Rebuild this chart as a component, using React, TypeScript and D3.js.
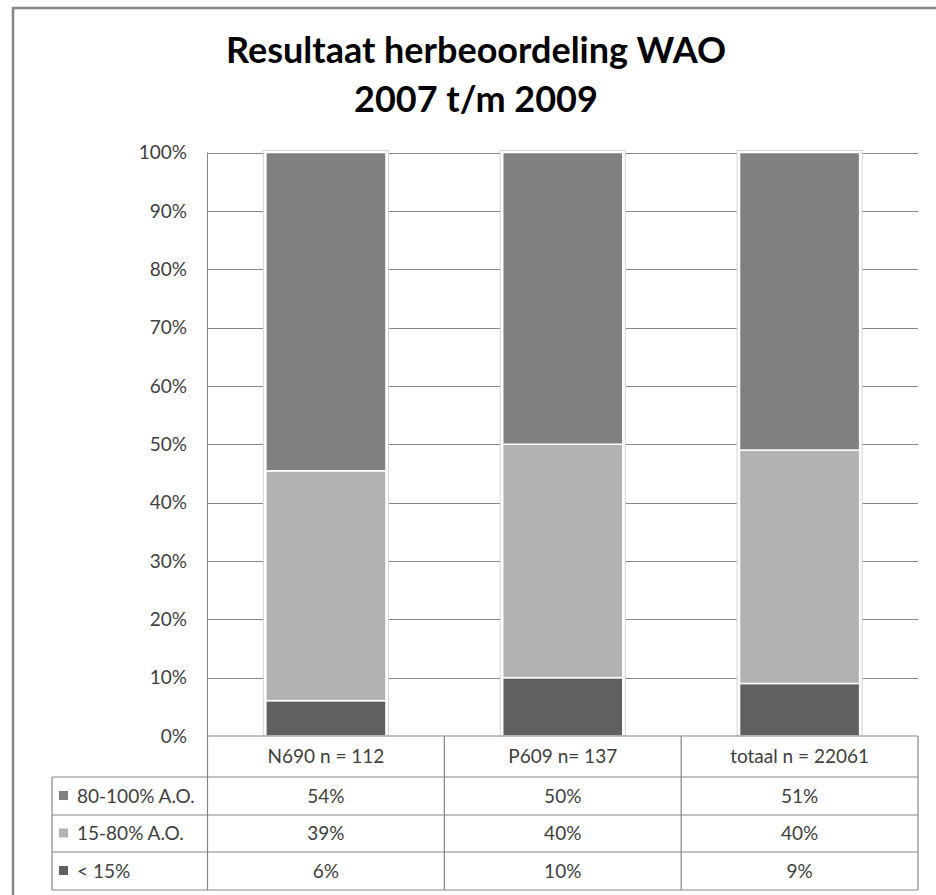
import React from 'react';
import * as d3 from 'd3';

const categories = ['N690 n = 112', 'P609 n= 137', 'totaal n = 22061'];
const seriesNames = ['< 15%', '15-80% A.O.', '80-100% A.O.'];
const below15 = [6, 10, 9];
const mid15to80 = [39, 40, 40];
const high80to100 = [54, 50, 51];
const yTicks = [0, 0.1, 0.2, 0.3, 0.4, 0.5, 0.6, 0.7, 0.8, 0.9, 1];
const seriesColors = ['#606060', '#b2b2b2', '#808080'];

const W = 936;
const H = 895;
const margin = { left: 207.5, right: 918, top: 152.5, bottom: 736 };
const rowLines = [736, 777, 815, 852, 890];
const tableLeft = 52;
const FONT = 'Lato, "Open Sans", sans-serif';

const rows = categories.map((c, i) => ({
  cat: c,
  '< 15%': below15[i],
  '15-80% A.O.': mid15to80[i],
  '80-100% A.O.': high80to100[i],
}));

const App: React.FC = () => {
  const x = d3.scaleBand<string>()
    .domain(categories)
    .range([margin.left, margin.right])
    .paddingInner(0.493)
    .paddingOuter(0.2465);

  const y = d3.scaleLinear().domain([0, 1]).range([margin.bottom, margin.top]);

  const stacked = d3.stack<any>()
    .keys(seriesNames)
    .offset(d3.stackOffsetExpand)(rows);

  const step = x.step();
  const colEdges = d3.range(categories.length + 1).map(i => margin.left + i * step);

  // table rows: top series first, like the legend in the original
  const tableSeries = [
    { name: '80-100% A.O.', values: high80to100, color: seriesColors[2] },
    { name: '15-80% A.O.', values: mid15to80, color: seriesColors[1] },
    { name: '< 15%', values: below15, color: seriesColors[0] },
  ];

  return (
    <svg width={W} height={H} style={{ position: 'absolute', left: 0, top: 0, background: '#fff' }}>
      {/* outer frame */}
      <rect x={13} y={8} width={W + 20} height={H + 20} fill="#fff" stroke="#868686" strokeWidth={2.5} />

      {/* title */}
      <text x={476} y={63} textAnchor="middle" fontFamily={FONT} fontWeight={700} fontSize={36} fill="#000">
        Resultaat herbeoordeling WAO
      </text>
      <text x={476} y={112} textAnchor="middle" fontFamily={FONT} fontWeight={700} fontSize={36} fill="#000">
        2007 t/m 2009
      </text>

      {/* grid lines */}
      {yTicks.filter(t => t > 0).map(t => (
        <line key={t} x1={margin.left} x2={margin.right} y1={Math.round(y(t)) + 0.5} y2={Math.round(y(t)) + 0.5}
          stroke="#868686" strokeWidth={1} />
      ))}
      <line x1={margin.left} x2={margin.left} y1={margin.top} y2={margin.bottom} stroke="#868686" strokeWidth={1} />

      {/* y tick labels */}
      {yTicks.map(t => (
        <text key={t} x={187} y={y(t)} dy="0.35em" textAnchor="end" fontFamily={FONT} fontSize={19} fill="#404040">
          {d3.format('.0%')(t)}
        </text>
      ))}

      {/* bar backgrounds (soft outline) */}
      {categories.map(c => (
        <rect key={c} x={(x(c) || 0) - 2.5} y={margin.top - 2} width={x.bandwidth() + 5}
          height={margin.bottom - margin.top + 2} fill="#fff" stroke="#d4d4d4" strokeWidth={1} />
      ))}

      {/* stacked bars */}
      {stacked.map((s, si) => (
        <g key={s.key} fill={seriesColors[si]}>
          {s.map((d, i) => (
            <rect key={i} x={x(categories[i]) || 0} y={y(d[1])} width={x.bandwidth()}
              height={y(d[0]) - y(d[1])} stroke="#fff" strokeWidth={1.5} />
          ))}
        </g>
      ))}

      {/* data table */}
      <g stroke="#868686" strokeWidth={1.2}>
        <line x1={margin.left} x2={colEdges[colEdges.length - 1]} y1={rowLines[0]} y2={rowLines[0]} />
        {rowLines.slice(1).map(ry => (
          <line key={ry} x1={tableLeft} x2={colEdges[colEdges.length - 1]} y1={ry} y2={ry} />
        ))}
        <line x1={tableLeft} x2={tableLeft} y1={rowLines[1]} y2={rowLines[4]} />
        {colEdges.map(cx => (
          <line key={cx} x1={cx} x2={cx} y1={rowLines[0]} y2={rowLines[4]} />
        ))}
      </g>

      {categories.map(c => (
        <text key={c} x={(x(c) || 0) + x.bandwidth() / 2} y={(rowLines[0] + rowLines[1]) / 2} dy="0.35em"
          textAnchor="middle" fontFamily={FONT} fontSize={19} fill="#404040">
          {c}
        </text>
      ))}

      {tableSeries.map((s, ri) => {
        const cy = (rowLines[ri + 1] + rowLines[ri + 2]) / 2;
        return (
          <g key={s.name}>
            <rect x={59} y={cy - 5} width={9} height={9} fill={s.color} />
            <text x={77} y={cy} dy="0.35em" fontFamily={FONT} fontSize={19} fill="#404040">{s.name}</text>
            {s.values.map((v, ci) => (
              <text key={ci} x={(x(categories[ci]) || 0) + x.bandwidth() / 2} y={cy} dy="0.35em"
                textAnchor="middle" fontFamily={FONT} fontSize={19} fill="#404040">
                {v}%
              </text>
            ))}
          </g>
        );
      })}
    </svg>
  );
};

export default App;
